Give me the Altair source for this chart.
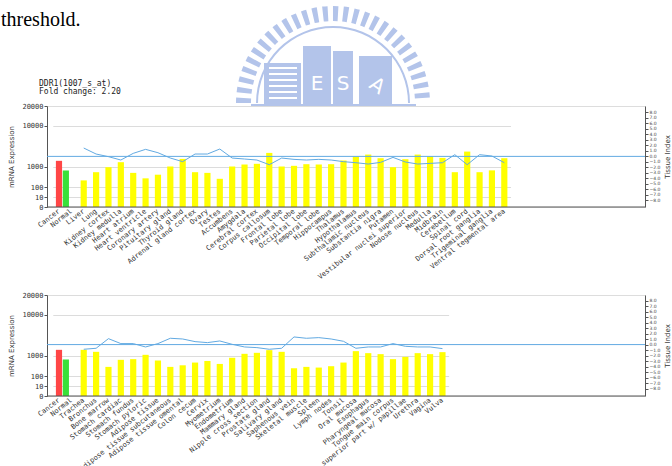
import altair as alt
import pandas as pd

# ---------------- data ----------------
page_text = ["threshold."]
title_lines = ["DDR1(1007_s_at)", "Fold change: 2.20"]
logo_letters = ["E", "S", "A"]
logo_teeth = [1, 0] * 28

ref_groups = ["Cancer", "Normal"]
ref_expr = [2250, 825]

top_tissues = ["Liver", "Lung", "Kidney cortex", "Kidney medulla", "Heart atrium",
               "Heart ventricle", "Coronary artery", "Pituitary gland", "Thyroid gland",
               "Adrenal gland cortex", "Ovary", "Testes", "Accumbens", "Amygdala",
               "Cerebral cortex", "Corpus callosum", "Frontal lobe", "Parietal lobe",
               "Occipital lobe", "Temporal lobe", "Hippocampus", "Thalamus", "Hypothalamus",
               "Subthalamic nucleus", "Substantia nigra", "Putamen",
               "Vestibular nuclei superior", "Nodose nucleus", "Medulla", "Midbrain",
               "Cerebellum", "Spinal cord", "Dorsal root ganglia", "Trigeminal ganglia",
               "Ventral tegmental area"]
top_expr = [390, 750, 970, 1950, 720, 480, 640, 1000, 2680, 750, 720, 460, 1000, 1440,
            1590, 4000, 1000, 1150, 1510, 1440, 1510, 2320, 3200, 3630, 2830, 970, 2610,
            3630, 3270, 2900, 750, 4290, 750, 830, 2830]
top_index = [1.52, 0.43, -0.05, -0.66, 0.55, 1.28, 0.67, -0.3, -0.96, 0.43, 0.43, 1.34,
             -0.3, -0.48, -0.66, -1.51, -0.3, -0.54, -0.66, -0.54, -0.66, -0.96, -1.15,
             -1.39, -1.09, -0.18, -1.02, -1.39, -1.27, -1.15, 0.31, -1.51, 0.31, 0.07, -1.15]

bottom_tissues = ["Trachea", "Bronchus", "Bone marrow", "Stomach cardiac", "Stomach fundus",
                  "Stomach pyloric", "Adipose tissue", "Adipose tissue subcutaneous",
                  "Adipose tissue omental", "Colon cecum", "Cervix", "Myometrium",
                  "Endometrium", "Mammary gland", "Nipple cross section", "Prostate gland",
                  "Salivary gland", "Saphenous vein", "Skeletal muscle", "Spleen",
                  "Lymph nodes", "Tonsil", "Oral mucosa", "Esophagus", "Pharyngeal mucosa",
                  "Tongue main corpus", "Tongue superior part w/ papillae", "Urethra",
                  "Vagina", "Vulva"]
bottom_expr = [2250, 1810, 500, 810, 840, 1150, 780, 500, 570, 690, 760, 630, 900, 1370,
               1590, 2180, 1810, 440, 500, 470, 530, 690, 1960, 1520, 1300, 840, 940, 1520,
               1300, 1740]
bottom_index = [-0.85, -0.67, 1.08, 0.18, 0.18, -0.43, 0.18, 1.15, 1.02, 0.54, 0.36, 0.66,
                0.05, -0.43, -0.55, -0.85, -0.67, 1.39, 1.15, 1.27, 1.02, 0.6, -0.67, -0.43,
                -0.43, 0.18, -0.31, -0.43, -0.43, -0.73]

expr_ticks = [0, 10, 100, 1000, 10000, 20000]
index_ticks = list(range(-8, 9))

# ---------------- style ----------------
MONO = "DejaVu Sans Mono"
SANS = "DejaVu Sans"
RED, GREEN, YELLOW, BLUE = "#ff4646", "#3ae03a", "#ffff00", "#62aae2"
LOGO = "#b3c4ea"
W, H = 598, 101
STEP = 12.37
ONE = pd.DataFrame({"k": [0]})


def panel(tissues, expr, index, idx_domain, extra=None):
    names = ref_groups + tissues
    bar_df = pd.DataFrame({"tissue": names, "expr": ref_expr + expr,
                           "group": ref_groups + ["Tissue"] * len(tissues)})
    line_df = pd.DataFrame({"tissue": tissues, "idx": index,
                            "order": list(range(len(tissues)))})

    x_scale = alt.Scale(domain=names, range=[5.8, 5.8 + STEP * len(names)],
                        paddingInner=0.5, paddingOuter=0.25)
    x_axis = alt.Axis(title=None, labelAngle=-38, labelAlign="right",
                      labelBaseline="middle", ticks=False, domain=False,
                      labelFont=MONO, labelFontSize=7, labelColor="#333",
                      labelPadding=3, labelOverlap=False, labelLimit=0)
    x = alt.X("tissue:N", scale=x_scale, axis=x_axis)

    y_scale = alt.Scale(domain=expr_ticks, range=[101, 91, 81, 60.5, 19.7, 0],
                        nice=False, zero=False)
    y_axis = alt.Axis(values=expr_ticks, tickCount=50, format="d",
                      title="mRNA Expression",
                      grid=True, gridColor="#dcdcdc", tickSize=3, tickColor="#555",
                      domainColor="#555", labelFont=MONO, labelFontSize=7,
                      labelColor="#333", labelPadding=1, labelOverlap=False,
                      labelFlush=False, titleFont=SANS,
                      titleFontSize=7, titleFontWeight="normal", titleColor="#333",
                      titlePadding=7)
    color = alt.Color("group:N", scale=alt.Scale(domain=["Cancer", "Normal", "Tissue"],
                                                 range=[RED, GREEN, YELLOW]),
                      legend=None)
    y = alt.Y("expr:Q", scale=y_scale, axis=y_axis)

    bars = alt.Chart(bar_df).mark_bar().encode(x=x, y=y, color=color).transform_filter(
        alt.datum.group != "Normal")
    # the Normal bar sits right next to the Cancer bar
    bars_n = alt.Chart(bar_df).mark_bar(xOffset=-5.5).encode(
        x=x, y=y, color=color).transform_filter(alt.datum.group == "Normal")
    base = alt.Chart(ONE).mark_rule(color="#555", strokeWidth=1).encode(y=alt.datum(0))
    left_layers = [bars, bars_n, base]
    if extra is not None:
        left_layers.extend(extra)

    ry = alt.Scale(domain=idx_domain, nice=False, zero=False)
    r_axis = alt.Axis(orient="right", values=index_ticks, tickCount=50,
                      title="Tissue Index",
                      grid=False, tickSize=3, tickColor="#555", domainColor="#555",
                      labelFont=SANS, labelFontSize=4.5, labelColor="#444",
                      labelPadding=1, labelOverlap=False, labelFlush=False,
                      titleFont=SANS, titleFontSize=7,
                      titleFontWeight="normal", titleColor="#333", titleAngle=270,
                      titleBaseline="top", titlePadding=4)
    line = alt.Chart(line_df).mark_line(color=BLUE, strokeWidth=1).encode(
        x=x,
        y=alt.Y("idx:Q", scale=ry, axis=r_axis),
        order="order:Q",
    )
    hline = alt.Chart(ONE).mark_rule(color=BLUE, strokeWidth=1).encode(y=alt.datum(0))

    ch = alt.layer(alt.layer(*left_layers), alt.layer(line, hline)).resolve_scale(
        y="independent")
    return ch.properties(width=W, height=H)


# ---------- page decorations placed around the top panel ----------
deco = []
teeth_df = pd.DataFrame({"w": [1] * len(logo_teeth), "on": logo_teeth,
                         "i": list(range(len(logo_teeth)))})
deco.append(alt.Chart(teeth_df).mark_arc(radius=97, radius2=82).encode(
    theta=alt.Theta("w:Q", stack=True, scale=alt.Scale(range=[4.712, 7.854])),
    order=alt.Order("i:Q"),
    opacity=alt.Opacity("on:Q", scale=None),
    fill=alt.value(LOGO),
    x=alt.value(286), y=alt.value(-3)))
deco.append(alt.Chart(ONE).mark_arc(theta=4.712, theta2=7.854, radius=77, radius2=75,
                                    color=LOGO)
            .encode(x=alt.value(286), y=alt.value(-3)))
for (x1, x2, y1) in [(217, 254, -43), (256, 284, -60), (286, 306, -55), (312, 345, -50)]:
    deco.append(alt.Chart(ONE).mark_rect(color=LOGO).encode(
        x=alt.value(x1), x2=alt.value(x2), y=alt.value(y1), y2=alt.value(-1)))
for yy in [-38, -32, -26, -20, -14, -8]:
    deco.append(alt.Chart(ONE).mark_rule(color="white", strokeWidth=2).encode(
        x=alt.value(222), x2=alt.value(250), y=alt.value(yy)))
deco.append(alt.Chart(ONE).mark_rule(color=LOGO, strokeWidth=2).encode(
    x=alt.value(204), x2=alt.value(369), y=alt.value(-1)))
letters_df = pd.DataFrame({"l": logo_letters})
for i, (cx, cy, ang) in enumerate([(270, -22, 0), (296, -22, 0), (330, -20, 35)]):
    deco.append(alt.Chart(letters_df.iloc[[i]]).mark_text(
        font=SANS, fontSize=20, color="white", angle=ang, baseline="middle",
        align="center").encode(x=alt.value(cx), y=alt.value(cy), text="l:N"))

page_df = pd.DataFrame({"t": page_text})
deco.append(alt.Chart(page_df).mark_text(
    font="Liberation Serif", fontSize=20, align="left", baseline="alphabetic",
    color="#000").encode(x=alt.value(-46), y=alt.value(-80), text="t:N"))

title_df = pd.DataFrame({"t": title_lines})
for i, yy in enumerate([-20, -12]):
    deco.append(alt.Chart(title_df.iloc[[i]]).mark_text(
        font=MONO, fontSize=8, align="left", baseline="alphabetic", color="#222")
        .encode(x=alt.value(-8), y=alt.value(yy), text="t:N"))

top = panel(top_tissues, top_expr, top_index, [-9.2, 9.16], extra=deco)
bottom = panel(bottom_tissues, bottom_expr, bottom_index, [-9.35, 9.02])

chart = alt.vconcat(top, bottom, spacing=88, bounds="flush").properties(
    padding={"left": 0, "top": 5, "right": 0, "bottom": 0}
).configure_view(stroke=None).configure(background="white")

chart.save("out.html", embed_options={"renderer": "svg", "actions": False})
